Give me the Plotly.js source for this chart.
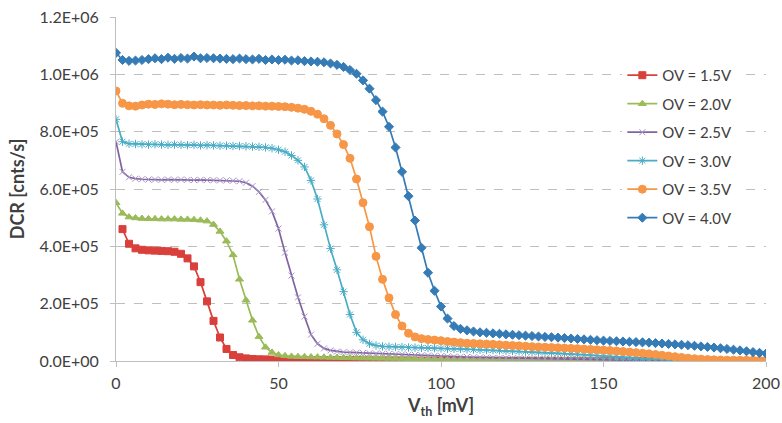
<!DOCTYPE html>
<html>
<head>
<meta charset="utf-8">
<script src="https://cdn.plot.ly/plotly-3.0.1.min.js"></script>
<style>html,body{margin:0;padding:0;background:#fff;}#chart{width:782px;height:423px;}</style>
</head>
<body>
<div id="chart"></div>
<script>
// Threshold voltage [mV]
const vth = [0,2,4,6,8,10,12,14,16,18,20,22,24,26,28,30,32,34,36,38,40,42,44,46,48,50,
52,54,56,58,60,62,64,66,68,70,72,74,76,78,80,82,84,86,88,90,92,94,96,98,100,
102,104,106,108,110,112,114,116,118,120,122,124,126,128,130,132,134,136,138,140,
142,144,146,148,150,152,154,156,158,160,162,164,166,168,170,172,174,176,178,180,
182,184,186,188,190,192,194,196,198,200];

const seriesNames = ["OV = 1.5V","OV = 2.0V","OV = 2.5V","OV = 3.0V","OV = 3.5V","OV = 4.0V"];

const dcr15 = [null,460000,409000,393000,388000,386000,385000,384000,383000,381000,374000,358000,330000,275000,208000,140000,82000,42000,21000,13000,9000,7000,6000,5500,5000,4500,
4200,4000,3800,3600,3400,3200,3000,2800,2600,2500,2400,2200,2100,2000,1900,1800,1700,1600,1500,1400,1300,1200,1100,1000,1000,
900,900,850,800,800,750,700,700,650,600,600,550,550,500,500,450,450,400,400,350,
350,300,300,300,250,250,200,200,200,150,150,150,100,100,100,100,50,50,50,50,
0,0,0,0,0,0,0,0,0,0];

const dcr20 = [552000,515000,502000,499000,497000,496000,496000,495000,495000,495000,494000,494000,493000,491000,488000,476000,452000,418000,370000,285000,212000,142000,85000,48000,30000,21000,
18000,16000,15000,14500,14000,13500,13000,12500,12000,11500,11000,10500,10000,9800,9500,9200,9000,8700,8400,8100,7800,7500,7200,7000,6700,
6500,6200,6000,5800,5600,5400,5200,5000,4800,4600,4400,4200,4000,3800,3600,3400,3200,3000,2800,2600,
2400,2200,2000,1800,1600,1500,1400,1300,1200,1100,1000,900,800,700,600,500,450,400,350,300,
250,200,150,100,100,50,50,0,0,0];

const dcr25 = [765000,660000,641000,636000,634000,633000,633000,632000,633000,632000,633000,632000,631000,632000,631000,631000,630000,630000,629000,627000,622000,610000,590000,562000,522000,462000,
378000,298000,222000,155000,92000,60000,44000,37000,33000,31000,30000,29000,28000,27000,26000,25500,25000,24000,23000,22000,21000,20000,19000,18000,17000,
16000,15000,14500,14000,13000,12500,12000,11000,10500,10000,9500,9000,8500,8000,7500,7000,6500,6000,5500,5000,
4500,4000,3500,3000,2500,2000,1800,1600,1400,1200,1000,800,600,500,400,300,200,100,0,0,
0,0,0,0,0,0,0,0,0,0];

const dcr30 = [843000,765000,758000,757000,756000,755000,756000,755000,754000,755000,754000,753000,754000,752000,753000,752000,751000,751000,750000,750000,749000,748000,747000,745000,742000,737000,
730000,717000,700000,677000,630000,565000,475000,392000,318000,242000,162000,100000,74000,60000,54000,51000,50000,49000,48000,47000,46500,46000,45500,45000,44000,
43000,42500,42000,41000,40000,39000,38500,38000,37000,36000,35000,34000,33000,32000,31000,30000,29000,28000,26500,25000,
23500,22000,20500,19000,17500,16000,14500,13000,11500,10000,8500,7000,6000,5000,4000,3000,2200,1500,1000,500,
200,0,0,0,0,0,0,0,0,0];

const dcr35 = [942000,899000,890000,889000,893000,896000,895000,897000,896000,894000,895000,894000,893000,894000,893000,893000,892000,893000,892000,891000,891000,890000,890000,889000,889000,888000,
887000,885000,882000,878000,871000,861000,845000,822000,792000,755000,707000,635000,552000,468000,365000,285000,220000,162000,122000,97000,84000,78000,75000,73000,71000,
68000,66000,64000,62000,61000,60000,59000,58000,56500,55000,54000,53000,51500,50000,49000,48000,47000,46000,45000,44000,
43000,41500,40500,39000,38000,36500,35000,33000,31000,29000,27000,25000,22500,20000,17500,15000,12500,10000,8000,6500,
5000,4000,3500,3000,2800,2600,2400,2200,2000,2000];

const dcr40 = [1075000,1050000,1047000,1048000,1050000,1053000,1056000,1053000,1058000,1054000,1057000,1055000,1062000,1056000,1057000,1056000,1055000,1054000,1053000,1055000,1053000,1052000,1054000,1050000,1052000,1050000,
1051000,1048000,1049000,1046000,1045000,1044000,1042000,1038000,1033000,1026000,1015000,1002000,979000,950000,910000,870000,817000,745000,660000,575000,490000,395000,308000,245000,190000,
148000,122000,112000,107000,103000,100000,98500,96500,95000,93000,91500,90000,88500,87000,85500,84000,83000,81500,80000,78500,
77000,75500,74000,72500,71000,70000,69000,68000,67000,66000,65000,64000,62500,61000,59500,58000,56500,55000,53000,51000,
49000,47000,44500,42000,39500,37000,34000,31000,28500,26000];

const yTickVals = [0,200000,400000,600000,800000,1000000,1200000];
const yTickText = ["0.0E+00","2.0E+05","4.0E+05","6.0E+05","8.0E+05","1.0E+06","1.2E+06"];
const xTickVals = [0,50,100,150,200];

const allSeries = [dcr15,dcr20,dcr25,dcr30,dcr35,dcr40];
const colors = ["#D9403B","#9BBB59","#8064A2","#4BACC6","#F79646","#357BB5"];
const markerColors = ["#D9403B","#9BBB59","#A794C6","#4BACC6","#F79646","#357BB5"];
const symbols = ["square","triangle-up","x-thin-open","asterisk-open","circle","diamond"];
const sizes = [7,7,6,7,8,7];

const traces = allSeries.map((ys,i)=>({
  x: vth, y: ys, type:"scatter", mode:"lines+markers", name: seriesNames[i],
  legendgroup: "g"+i,
  line:{color:colors[i], width:1.7},
  marker:{symbol:symbols[i], size:sizes[i], color:markerColors[i], line:{color:markerColors[i], width:1}},
  connectgaps:false
}));

const font = "Lato, 'Open Sans', sans-serif";
const layout = {
  width:782, height:423,
  margin:{l:116, r:16, t:17, b:62},
  paper_bgcolor:"#fff", plot_bgcolor:"#fff",
  font:{family:font, color:"#404040", size:14},
  showlegend:true,
  legend:{x:0.779, xanchor:"left", y:0.878, yanchor:"top", bgcolor:"#fff",
    font:{family:font, size:15, color:"#404040"}, tracegroupgap:6, traceorder:"grouped"},
  xaxis:{range:[0,200], tickvals:xTickVals, ticks:"outside", ticklen:5, tickcolor:"#bfbfbf",
    showline:true, linecolor:"#bfbfbf", linewidth:1, showgrid:false, zeroline:false,
    ticklabelstandoff:3,
    tickfont:{family:font, size:16, color:"#404040"},
    title:{text:"<b>V<sub>th</sub> [mV]</b>", font:{family:font, size:18, color:"#404040"}, standoff:8}},
  yaxis:{range:[0,1200000], tickvals:yTickVals, ticktext:yTickText, ticks:"outside", ticklen:5, tickcolor:"#bfbfbf",
    showline:true, linecolor:"#bfbfbf", linewidth:1, showgrid:true, gridcolor:"#bfbfbf", griddash:"dash", gridwidth:1, zeroline:false,
    ticklabelstandoff:8,
    tickfont:{family:font, size:16, color:"#404040"},
    title:{text:"<b>DCR [cnts/s]</b>", font:{family:font, size:18, color:"#404040"}, standoff:10}}
};

Plotly.newPlot("chart", traces, layout, {displayModeBar:false, staticPlot:true});
</script>
</body>
</html>
